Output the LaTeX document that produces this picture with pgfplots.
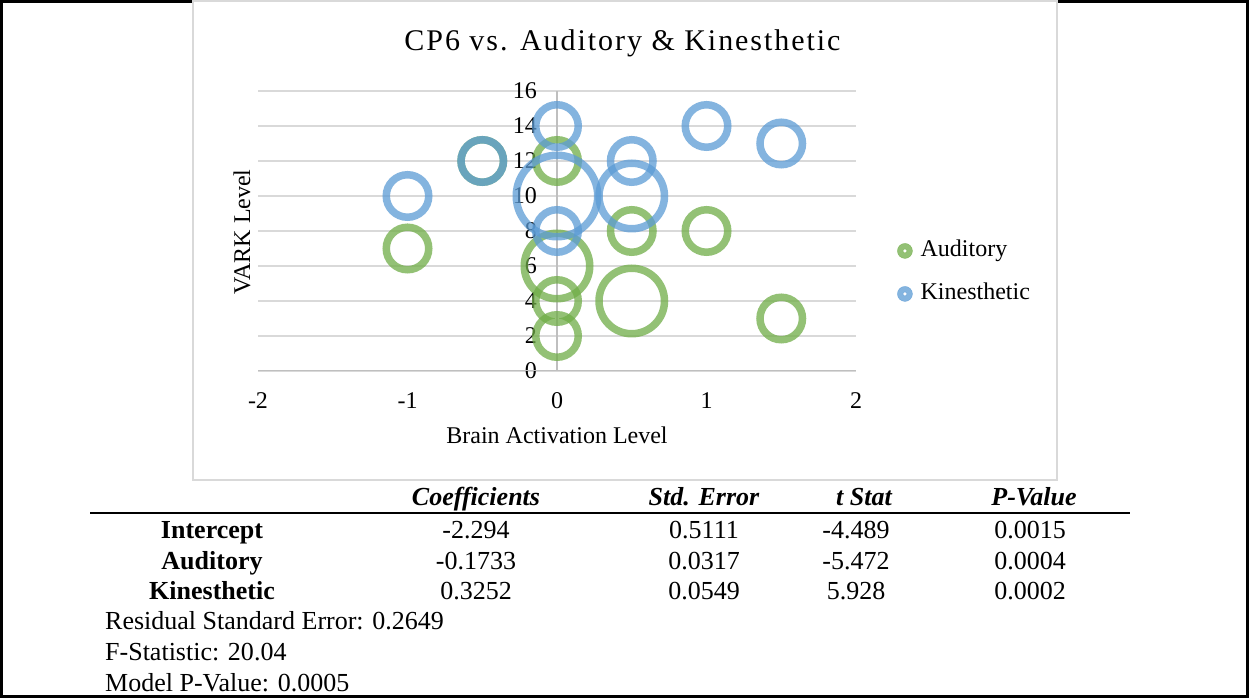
\documentclass[border=0pt]{standalone}
\usepackage{fontspec}
\setmainfont{Liberation Serif}
\newfontfamily\titlefont[LetterSpace=6.5]{Liberation Serif}
\usepackage{pgfplots}
\pgfplotsset{compat=1.18}
\definecolor{agreen}{RGB}{112,173,71}
\definecolor{kblue}{RGB}{91,155,213}
\definecolor{gridgray}{RGB}{217,217,217}
\definecolor{axgray}{RGB}{191,191,191}
\tikzset{tb/.style={font=\fontsize{26}{30}\selectfont, inner sep=0pt, anchor=base},
         tbb/.style={tb, font=\fontsize{26}{30}\selectfont\bfseries},
         tbi/.style={tb, font=\fontsize{26}{30}\selectfont\bfseries\itshape}}
\begin{document}
\begin{tikzpicture}[x=1pt,y=1pt]
\useasboundingbox (0pt,0pt) rectangle (1249pt,698pt);
% outer frame
\draw[black, line width=3pt] (1.5pt,1.5pt) rectangle (1247.5pt,696.5pt);
% chart area
\filldraw[fill=white, draw=gridgray, line width=2pt] (193pt,218pt) rectangle (1057pt,697pt);
\begin{axis}[
  at={(258pt,327pt)}, anchor=south west,
  scale only axis, width=598pt, height=280pt,
  xmin=-2, xmax=2, ymin=0, ymax=16,
  xtick={-2,-1,0,1,2}, xticklabels={-2,-1,0,1,2},
  ytick={0,2,4,6,8,10,12,14,16}, yticklabels={0,2,4,6,8,10,12,14,16},
  axis line style={draw=none},
  major tick length=0pt,
  ymajorgrids, grid style={gridgray, line width=1.5pt},
  tick label style={font=\fontsize{24}{28}\selectfont, inner sep=0pt},
  xticklabel style={anchor=north, yshift=-21pt},
  yticklabel style={anchor=east, xshift=279pt},
  title={CP6 vs. Auditory \& Kinesthetic},
  title style={at={(axis description cs:0.6095,1.1496)}, anchor=center, font=\titlefont\fontsize{30}{34}\selectfont},
  xlabel={Brain Activation Level},
  xlabel style={at={(axis description cs:0.5,-0.229)}, anchor=center, font=\fontsize{24}{28}\selectfont},
  ylabel={VARK Level},
  ylabel style={at={(axis description cs:-0.0268,0.496)}, anchor=center, rotate=0, font=\fontsize{24}{28}\selectfont},
  legend style={at={(axis description cs:1.0686,0.352)}, anchor=west, draw=none, fill=none,
    font=\fontsize{24}{28}\selectfont, inner sep=0pt, row sep=19pt,
    nodes={inner sep=1pt, text height=17pt, text depth=5pt},
    /tikz/every odd column/.append style={column sep=7pt}},
  legend cell align=left,
]
\draw[axgray, line width=1.5pt] (axis cs:-2,0) -- (axis cs:2,0);
\draw[axgray, line width=1.5pt] (axis cs:0,0) -- (axis cs:0,16);
% Auditory, small bubbles
\addplot[only marks, mark=o, mark size=21.25pt,
  mark options={draw=agreen, draw opacity=0.75, line width=7.5pt},
  legend image code/.code={\fill[agreen, opacity=0.75, even odd rule] (0pt,0pt) circle (7.5pt) circle (2pt);}]
  coordinates {(-1,7) (-0.5,12) (0,12) (0,4) (0,2) (0.5,8) (1,8) (1.5,3)};
\addlegendentry{Auditory}
% Auditory, medium bubbles
\addplot[forget plot, only marks, mark=o, mark size=32.75pt,
  mark options={draw=agreen, draw opacity=0.75, line width=7.5pt}]
  coordinates {(0,6) (0.5,4)};
% Kinesthetic, small bubbles
\addplot[only marks, mark=o, mark size=21.25pt,
  mark options={draw=kblue, draw opacity=0.75, line width=7.5pt},
  legend image code/.code={\fill[kblue, opacity=0.75, even odd rule] (0pt,0pt) circle (7.5pt) circle (2pt);}]
  coordinates {(-1,10) (-0.5,12) (0,14) (0,8) (0.5,12) (1,14) (1.5,13)};
\addlegendentry{Kinesthetic}
% Kinesthetic, medium bubble
\addplot[forget plot, only marks, mark=o, mark size=32.75pt,
  mark options={draw=kblue, draw opacity=0.75, line width=7.5pt}]
  coordinates {(0.5,10)};
% Kinesthetic, large bubble
\addplot[forget plot, only marks, mark=o, mark size=40.75pt,
  mark options={draw=kblue, draw opacity=0.75, line width=7.5pt}]
  coordinates {(0,10)};
\end{axis}
% regression table
\node[tbi] at (476pt,192pt) {Coefficients};
\node[tbi] at (704pt,192pt) {Std. Error};
\node[tbi] at (864pt,192pt) {t Stat};
\node[tbi] at (1034pt,192pt) {P-Value};
\draw[black, line width=2.5pt] (90pt,185pt) -- (1130pt,185pt);
\node[tbb] at (212pt,159pt) {Intercept};
\node[tbb] at (212pt,128pt) {Auditory};
\node[tbb] at (212pt,98pt) {Kinesthetic};
\node[tb] at (476pt,159pt) {-2.294};
\node[tb] at (476pt,128pt) {-0.1733};
\node[tb] at (476pt,98pt) {0.3252};
\node[tb] at (704pt,159pt) {0.5111};
\node[tb] at (704pt,128pt) {0.0317};
\node[tb] at (704pt,98pt) {0.0549};
\node[tb] at (856pt,159pt) {-4.489};
\node[tb] at (856pt,128pt) {-5.472};
\node[tb] at (856pt,98pt) {5.928};
\node[tb] at (1030pt,159pt) {0.0015};
\node[tb] at (1030pt,128pt) {0.0004};
\node[tb] at (1030pt,98pt) {0.0002};
\node[tb, anchor=base west] at (105pt,68pt) {Residual Standard Error: 0.2649};
\node[tb, anchor=base west] at (105pt,37pt) {F-Statistic: 20.04};
\node[tb, anchor=base west] at (105pt,6pt) {Model P-Value: 0.0005};
\end{tikzpicture}
\end{document}
